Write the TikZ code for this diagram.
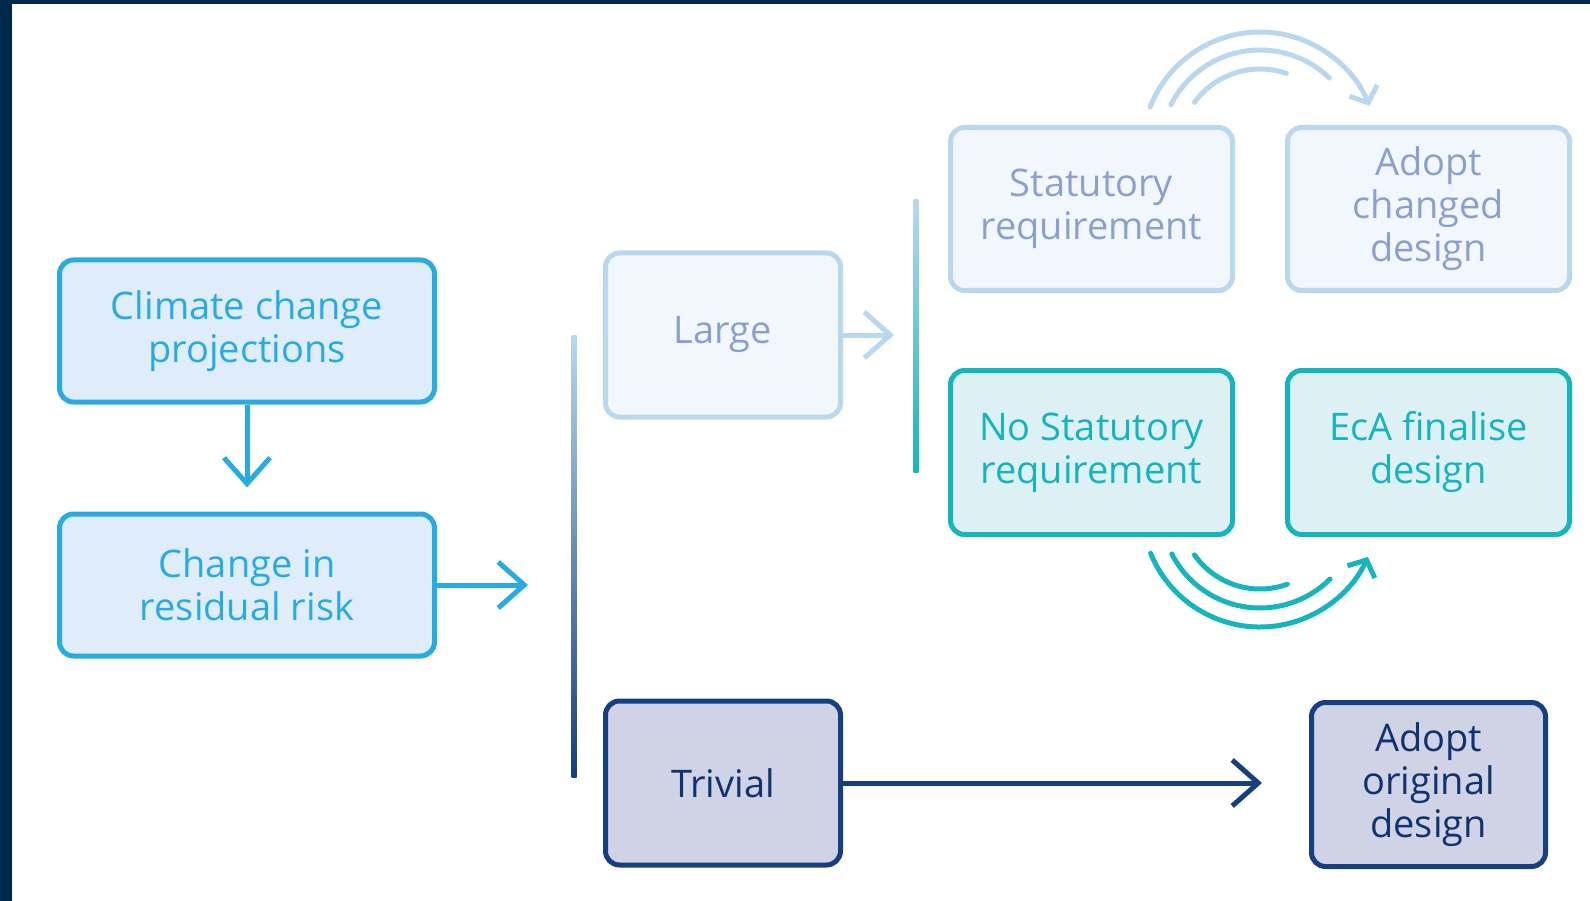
\documentclass[tikz,border=0pt]{standalone}
\usepackage{fontspec}
\setmainfont{Open Sans}
\definecolor{framenavy}{RGB}{0,40,75}
\definecolor{skyblue}{RGB}{41,171,226}
\definecolor{skyfill}{RGB}{222,237,249}
\definecolor{paleline}{RGB}{186,215,240}
\definecolor{palefill}{RGB}{242,247,253}
\definecolor{paletext}{RGB}{140,160,205}
\definecolor{tealline}{RGB}{22,180,188}
\definecolor{tealfill}{RGB}{221,240,243}
\definecolor{navyline}{RGB}{22,62,128}
\definecolor{navyfill}{RGB}{208,211,230}
\definecolor{navytext}{RGB}{16,50,110}
\usetikzlibrary{shapes,arrows,arrows.meta,positioning,calc}

\tikzset{
    box/.style={rounded corners=14pt, line width=5pt, align=center, inner sep=0pt,
        font=\fontsize{38}{43}\selectfont},
    skybox/.style={box, draw=skyblue, fill=skyfill, text=skyblue},
    palebox/.style={box, draw=paleline, fill=palefill, text=paletext},
    tealbox/.style={box, draw=tealline, fill=tealfill, text=tealline},
    navybox/.style={box, draw=navyline, fill=navyfill, text=navytext},
    flow/.style={line width=5pt, -{Straight Barb[length=26pt,width=46pt]}},
    swoop/.style={line width=5pt, line cap=round},
}

\begin{document}
\begin{tikzpicture}[x=1pt,y=-1pt]
    \useasboundingbox (0,0) rectangle (1590,901);
    % frame along the top and left edges
    \fill[framenavy] (0,0) rectangle (1590,4);
    \fill[framenavy] (0,0) rectangle (12,901);

    % left column
    \node[skybox, minimum width=375pt, minimum height=142pt] (clim) at (247,331) {Climate change\\projections};
    \node[skybox, minimum width=375pt, minimum height=142pt] (resid) at (247,585) {Change in\\residual risk};
    \coordinate (resid tip) at (528,585);
    \draw[flow, skyblue] (clim.south) -- ++(0,83);
    \draw[flow, skyblue] (resid.east) -- (resid tip);

    % split into large / trivial
    \node[palebox, minimum width=235pt, minimum height=164pt] (large) at (723,335) {Large};
    \node[navybox, minimum width=235pt, minimum height=164pt] (trivial) at (723,783) {Trivial};
    \shade[top color=paleline, bottom color=navyline] (571.5,335) rectangle (576.5,777);

    % statutory branch
    \node[palebox, minimum width=282pt, minimum height=163pt] (stat) at (1091.5,209) {Statutory\\requirement};
    \node[palebox, minimum width=282pt, minimum height=163pt] (adoptch) at (1428.5,209) {Adopt\\changed\\design};
    \node[tealbox, minimum width=282pt, minimum height=164pt] (nostat) at (1091.5,452.5) {No Statutory\\requirement};
    \node[tealbox, minimum width=282pt, minimum height=164pt] (finalise) at (1428.5,452.5) {EcA finalise\\design};
    \shade[top color=paleline, bottom color=tealline] (913.5,200) rectangle (918.5,472);
    \coordinate (large tip) at (894,335);
    \draw[flow, paleline] (large.east) -- (large tip);

    % trivial outcome
    \node[navybox, minimum width=234pt, minimum height=164pt] (adoptor) at (1428.5,784.5) {Adopt\\original\\design};
    \draw[flow, navyline] (trivial.east) -- ++(419,0);

    % swoops between the branch boxes
    \coordinate (upper c) at (1260,150);
    \coordinate (lower c) at (1260,509);
    \draw[swoop, paleline, -{Straight Barb[length=13pt,width=30pt]}]
        ($(upper c)+(-158.6:118)$) arc[start angle=-158.6, end angle=-22, radius=118];
    \draw[swoop, paleline] ($(upper c)+(-153:100)$) arc[start angle=-153, end angle=-46, radius=100];
    \draw[swoop, paleline] ($(upper c)+(-144:81)$) arc[start angle=-144, end angle=-71, radius=81];
    \draw[swoop, tealline, -{Straight Barb[length=13pt,width=30pt]}]
        ($(lower c)+(158:118)$) arc[start angle=158, end angle=24, radius=118];
    \draw[swoop, tealline] ($(lower c)+(153:99)$) arc[start angle=153, end angle=45, radius=99];
    \draw[swoop, tealline] ($(lower c)+(145:80)$) arc[start angle=145, end angle=70, radius=80];
\end{tikzpicture}
\end{document}
